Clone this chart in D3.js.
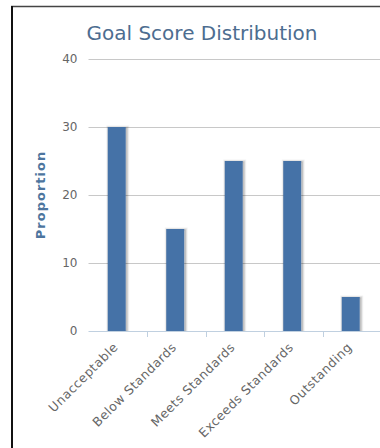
<!DOCTYPE html>
<html>
<head>
<meta charset="utf-8">
<script src="https://cdn.jsdelivr.net/npm/d3@7"></script>
<style>
  html, body { margin: 0; padding: 0; background: #fff; }
  svg { display: block; }
  text { font-family: "DejaVu Sans", Verdana, sans-serif; }
</style>
</head>
<body>
<svg id="chart" width="380" height="448"></svg>
<script>
// Goal score distribution data
const categories = ["Unacceptable", "Below Standards", "Meets Standards", "Exceeds Standards", "Outstanding"];
const proportions = [30, 15, 25, 25, 5];
const yTicks = [0, 10, 20, 30, 40];
const titleText = "Goal Score Distribution";
const yAxisTitle = "Proportion";

const svg = d3.select("#chart");
const W = 380, H = 448;

// container frame (top and left edges visible)
svg.append("line").attr("x1", 11).attr("x2", W).attr("y1", 6.5).attr("y2", 6.5)
  .attr("stroke", "#444").attr("stroke-width", 1.5);
svg.append("line").attr("x1", 12).attr("x2", 12).attr("y1", 6).attr("y2", H)
  .attr("stroke", "#111").attr("stroke-width", 2);

const plot = { left: 88.5, right: 381, top: 59, bottom: 331 };

const x = d3.scaleBand().domain(categories).range([plot.left, plot.right]).paddingInner(0).paddingOuter(0);
const y = d3.scaleLinear().domain([0, 40]).range([plot.bottom, plot.top]);

// title
svg.append("text")
  .attr("x", 202).attr("y", 40)
  .attr("text-anchor", "middle")
  .attr("fill", "#4d6d90")
  .style("font-size", "20px")
  .text(titleText);

// horizontal grid lines
const grid = svg.append("g");
grid.selectAll("line").data(yTicks.filter(d => d > 0)).join("line")
  .attr("x1", plot.left).attr("x2", W)
  .attr("y1", d => Math.round(y(d)) + 0.5).attr("y2", d => Math.round(y(d)) + 0.5)
  .attr("stroke", "#c8c8c8").attr("stroke-width", 1);

// y axis tick labels
const yAxis = d3.axisLeft(y).tickValues(yTicks).tickSize(0).tickPadding(11);
const yg = svg.append("g").attr("transform", `translate(${plot.left},0)`).call(yAxis);
yg.select(".domain").remove();
yg.selectAll("text").attr("fill", "#666").style("font-size", "12px")
  .style("font-family", "\"DejaVu Sans\", Verdana, sans-serif");

// y axis title
svg.append("text")
  .attr("transform", `translate(45,${(plot.top + plot.bottom) / 2}) rotate(-90)`)
  .attr("text-anchor", "middle")
  .attr("fill", "#4d759e")
  .style("font-size", "13px").style("font-weight", "bold")
  .style("letter-spacing", "1px")
  .text(yAxisTitle);

// bars with soft drop shadow
const barW = 18;
const bars = svg.append("g");
const shadowSteps = [{w: 5, o: 0.05}, {w: 3, o: 0.1}, {w: 1, o: 0.15}];
categories.forEach((c, i) => {
  const bx = x(c) + x.bandwidth() / 2 - barW / 2 - 1;
  const by = y(proportions[i]);
  const bh = plot.bottom - by;
  shadowSteps.forEach(s => {
    bars.append("rect")
      .attr("x", bx + 1).attr("y", by + 1)
      .attr("width", barW).attr("height", bh - 1)
      .attr("fill", "none").attr("stroke", "#000")
      .attr("stroke-opacity", s.o).attr("stroke-width", s.w);
  });
});
bars.selectAll("rect.bar").data(proportions).join("rect")
  .attr("class", "bar")
  .attr("x", (d, i) => x(categories[i]) + x.bandwidth() / 2 - barW / 2 - 1)
  .attr("y", d => y(d))
  .attr("width", barW)
  .attr("height", d => plot.bottom - y(d))
  .attr("fill", "#4572a7");

// white cover beneath baseline so shadows don't spill
svg.append("rect").attr("x", plot.left).attr("y", plot.bottom + 0.5)
  .attr("width", W - plot.left).attr("height", 6).attr("fill", "#fff");

// x axis
const xAxis = d3.axisBottom(x).tickSize(0).tickPadding(0);
const xg = svg.append("g").attr("transform", `translate(0,${plot.bottom})`).call(xAxis);
xg.select(".domain").attr("d", `M${plot.left},0.5H${W}`).attr("stroke", "#c0d0e0").attr("stroke-width", 1);
xg.selectAll(".tick line").remove();
// category boundary ticks
svg.append("g").selectAll("line").data(categories.slice(1)).join("line")
  .attr("x1", d => Math.round(x(d)) + 0.5).attr("x2", d => Math.round(x(d)) + 0.5)
  .attr("y1", plot.bottom).attr("y2", plot.bottom + 6)
  .attr("stroke", "#c0d0e0").attr("stroke-width", 1);
xg.selectAll(".tick text")
  .attr("fill", "#666")
  .style("font-size", "12.5px")
  .style("letter-spacing", "0.5px")
  .style("font-family", "\"DejaVu Sans\", Verdana, sans-serif")
  .attr("text-anchor", "end")
  .attr("dy", null).attr("y", 0)
  .attr("transform", "translate(1,17) rotate(-45)");
</script>
</body>
</html>
